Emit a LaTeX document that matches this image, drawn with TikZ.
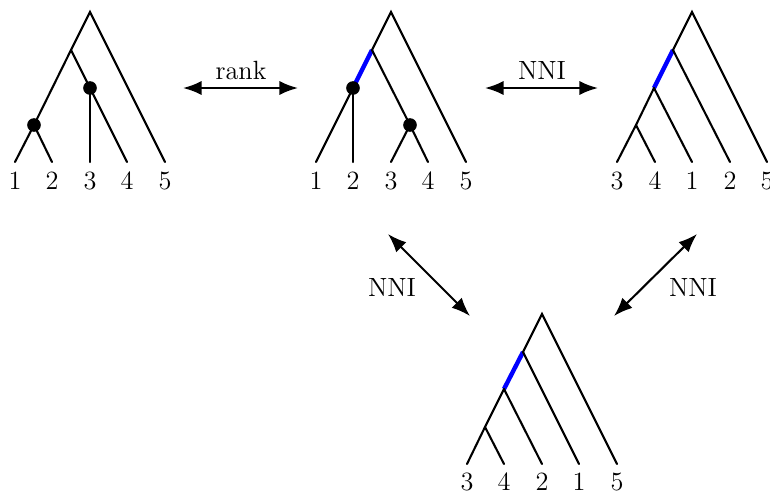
\documentclass[tikz,border=0pt]{standalone}
\usetikzlibrary{arrows.meta}
\begin{document}
\begin{tikzpicture}[x=0.016cm,y=-0.016cm,
  edge/.style={line width=0.95pt,line cap=round},
  blueedge/.style={line width=2pt,draw={rgb,255:red,0;green,0;blue,255}},
  dot/.style={circle,fill=black,inner sep=0pt,minimum size=6.2pt},
  lab/.style={font=\fontsize{12}{14}\selectfont,inner sep=0pt},
  dbl/.style={line width=0.95pt,{Latex[length=8.5pt,width=6.5pt]}-{Latex[length=8.5pt,width=6.5pt]}}]
\useasboundingbox (0,0) rectangle (770,495);
% ---------- Tree 1 ----------
\coordinate (r1) at (90,12);
\coordinate (a1) at (71,50);
\coordinate (b1) at (90,88);
\coordinate (c1) at (34,125);
\coordinate (l11) at (15,162);
\coordinate (l12) at (52,162);
\coordinate (l13) at (90,162);
\coordinate (l14) at (127,162);
\coordinate (l15) at (165,162);
\draw[edge] (l15) -- (r1) -- (a1) -- (c1) -- (l11);
\draw[edge] (c1) -- (l12);
\draw[edge] (a1) -- (b1) -- (l14);
\draw[edge] (b1) -- (l13);
\node[dot] (db1) at (b1) {};
\node[dot] (dc1) at (c1) {};
\node[lab] (t11) at (15,181) {1};
\node[lab] (t12) at (52,181) {2};
\node[lab] (t13) at (90,181) {3};
\node[lab] (t14) at (127,181) {4};
\node[lab] (t15) at (165,181) {5};
% ---------- Tree 2 ----------
\coordinate (r2) at (391,12);
\coordinate (a2) at (372,50);
\coordinate (d2) at (353,88);
\coordinate (e2) at (410,125);
\coordinate (l21) at (316,162);
\coordinate (l22) at (353,162);
\coordinate (l23) at (391,162);
\coordinate (l24) at (428,162);
\coordinate (l25) at (466,162);
\draw[edge] (l25) -- (r2) -- (a2);
\draw[blueedge] (a2) -- (d2);
\draw[edge] (d2) -- (l21);
\draw[edge] (d2) -- (l22);
\draw[edge] (a2) -- (e2) -- (l24);
\draw[edge] (e2) -- (l23);
\node[dot] (dd2) at (d2) {};
\node[dot] (de2) at (e2) {};
\node[lab] (t21) at (316,181) {1};
\node[lab] (t22) at (353,181) {2};
\node[lab] (t23) at (391,181) {3};
\node[lab] (t24) at (428,181) {4};
\node[lab] (t25) at (466,181) {5};
% ---------- Tree 3 ----------
\coordinate (r3) at (692,12);
\coordinate (a3) at (673,50);
\coordinate (b3) at (654,88);
\coordinate (c3) at (636,125);
\coordinate (l31) at (617,162);
\coordinate (l32) at (655,162);
\coordinate (l33) at (692,162);
\coordinate (l34) at (730,162);
\coordinate (l35) at (767,162);
\draw[edge] (l35) -- (r3) -- (a3);
\draw[blueedge] (a3) -- (b3);
\draw[edge] (a3) -- (l34);
\draw[edge] (b3) -- (l33);
\draw[edge] (b3) -- (c3) -- (l31);
\draw[edge] (c3) -- (l32);
\node[lab] (t31) at (617,181) {3};
\node[lab] (t32) at (655,181) {4};
\node[lab] (t33) at (692,181) {1};
\node[lab] (t34) at (730,181) {2};
\node[lab] (t35) at (767,181) {5};
% ---------- Tree 4 ----------
\coordinate (r4) at (542,314);
\coordinate (a4) at (523,352);
\coordinate (b4) at (504,389);
\coordinate (c4) at (485,427);
\coordinate (l41) at (467,464);
\coordinate (l42) at (504,464);
\coordinate (l43) at (542,464);
\coordinate (l44) at (579,464);
\coordinate (l45) at (617,464);
\draw[edge] (l45) -- (r4) -- (a4);
\draw[blueedge] (a4) -- (b4);
\draw[edge] (a4) -- (l44);
\draw[edge] (b4) -- (l43);
\draw[edge] (b4) -- (c4) -- (l41);
\draw[edge] (c4) -- (l42);
\node[lab] (t41) at (467,482) {3};
\node[lab] (t42) at (504,482) {4};
\node[lab] (t43) at (542,482) {2};
\node[lab] (t44) at (579,482) {1};
\node[lab] (t45) at (617,482) {5};
% ---------- Arrows ----------
\coordinate (p1) at (183,88);
\coordinate (p2) at (298,88);
\coordinate (q1) at (485,88);
\coordinate (q2) at (598,88);
\coordinate (s1) at (388,234);
\coordinate (s2) at (470,316);
\coordinate (u1) at (697,234);
\coordinate (u2) at (614,316);
\draw[dbl] (p1) -- (p2);
\draw[dbl] (q1) -- (q2);
\draw[dbl] (s1) -- (s2);
\draw[dbl] (u1) -- (u2);
\node[lab] (rk) at (241,70) {rank};
\node[lab] (n1) at (542,70) {NNI};
\node[lab] (n2) at (392,287) {NNI};
\node[lab] (n3) at (693,287) {NNI};
\end{tikzpicture}
\end{document}
